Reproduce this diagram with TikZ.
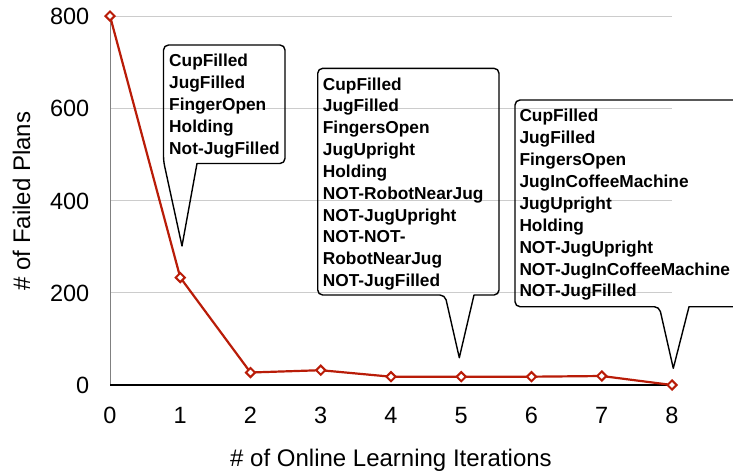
\documentclass[tikz,border=0pt]{standalone}
\usepackage{fontspec}
\setmainfont{Liberation Sans}
\usetikzlibrary{shapes.geometric}
\definecolor{series}{RGB}{185,28,8}
\definecolor{gridc}{RGB}{204,204,204}
\definecolor{axisgray}{RGB}{128,128,128}
\begin{document}
\begin{tikzpicture}[x=1pt,y=-1pt,
  ticklabel/.style={font=\fontsize{23.5}{28}\selectfont, inner sep=0pt},
  axislabel/.style={font=\fontsize{24}{29}\selectfont, inner sep=0pt},
  calltext/.style={font=\fontsize{17.3}{21.9}\selectfont\bfseries, inner sep=0pt, anchor=base west},
  callout/.style={draw=black, line width=1.4pt, line join=round},
  gridline/.style={draw=gridc, line width=1pt},
  marker/.style={diamond, draw=series, fill=white, line width=2pt, minimum size=10pt, inner sep=0pt},
  seriesline/.style={draw=series, line width=2.2pt, line join=round}]
\useasboundingbox (0,0) rectangle (733,472);
\clip (0,0) rectangle (733,472);
% grid
\foreach \yy in {16,108.25,200.5,292.75} \draw[gridline] (110,\yy) -- (672,\yy);
% axes
\draw[axisgray, line width=1pt] (110,16) -- (110,385);
\draw[black, line width=1.2pt] (110,385) -- (672,385);
% tick labels
\foreach \k in {0,...,8} \node[ticklabel, anchor=base] (xt\k) at ({110+70.25*\k},423) {\k};
\foreach \v/\yy in {0/385,200/292.75,400/200.5,600/108.25,800/16} \node[ticklabel, anchor=east] (yt\v) at (89.5,{\yy+0.5}) {\v};
% axis labels
\node[axislabel, anchor=base] (xl) at (391,466) {\# of Online Learning Iterations};
\node[axislabel, rotate=90, anchor=base] (yl) at (30,201) {\# of Failed Plans};
% callout 1
\draw[callout] (182,246) -- (197,163.5) [rounded corners=5pt] -- (285,163.5) -- (285,45) -- (163.5,45) -- (163.5,161) [sharp corners] -- cycle;
\foreach \t [count=\i from 0] in {CupFilled,JugFilled,FingerOpen,Holding,Not-JugFilled}
  \node[calltext] (a\i) at (169,{66.7+21.9*\i}) {\t};
% callout 2
\draw[callout] (459.3,357.7) -- (474,295) [rounded corners=5pt] -- (499,295) -- (499,68.3) -- (317.7,68.3) -- (317.7,295) -- (445,295) [sharp corners] -- cycle;
\foreach \t [count=\i from 0] in {CupFilled,JugFilled,FingersOpen,JugUpright,Holding,NOT-RobotNearJug,NOT-JugUpright,NOT-NOT-,RobotNearJug,NOT-JugFilled}
  \node[calltext] (b\i) at (322.7,{90+21.85*\i}) {\t};
% callout 3
\draw[callout] (673.3,368.3) -- (689,306.7) [rounded corners=5pt] -- (745,306.7) -- (745,100) -- (515,100) -- (515,306.7) -- (659.3,306.7) [sharp corners] -- cycle;
\foreach \t [count=\i from 0] in {CupFilled,JugFilled,FingersOpen,JugInCoffeeMachine,JugUpright,Holding,NOT-JugUpright,NOT-JugInCoffeeMachine,NOT-JugFilled}
  \node[calltext] (c\i) at (519.3,{121.7+21.9*\i}) {\t};
% series
\foreach \k/\yy in {0/16,1/277.5,2/372.5,3/370.2,4/376.7,5/376.7,6/376.7,7/376,8/385}
  \coordinate (s\k) at ({110+70.25*\k},\yy);
\draw[seriesline] (s0) -- (s1) -- (s2) -- (s3) -- (s4) -- (s5) -- (s6) -- (s7) -- (s8);
\foreach \k in {0,...,8} \node[marker] (m\k) at (s\k) {};
\end{tikzpicture}
\end{document}
